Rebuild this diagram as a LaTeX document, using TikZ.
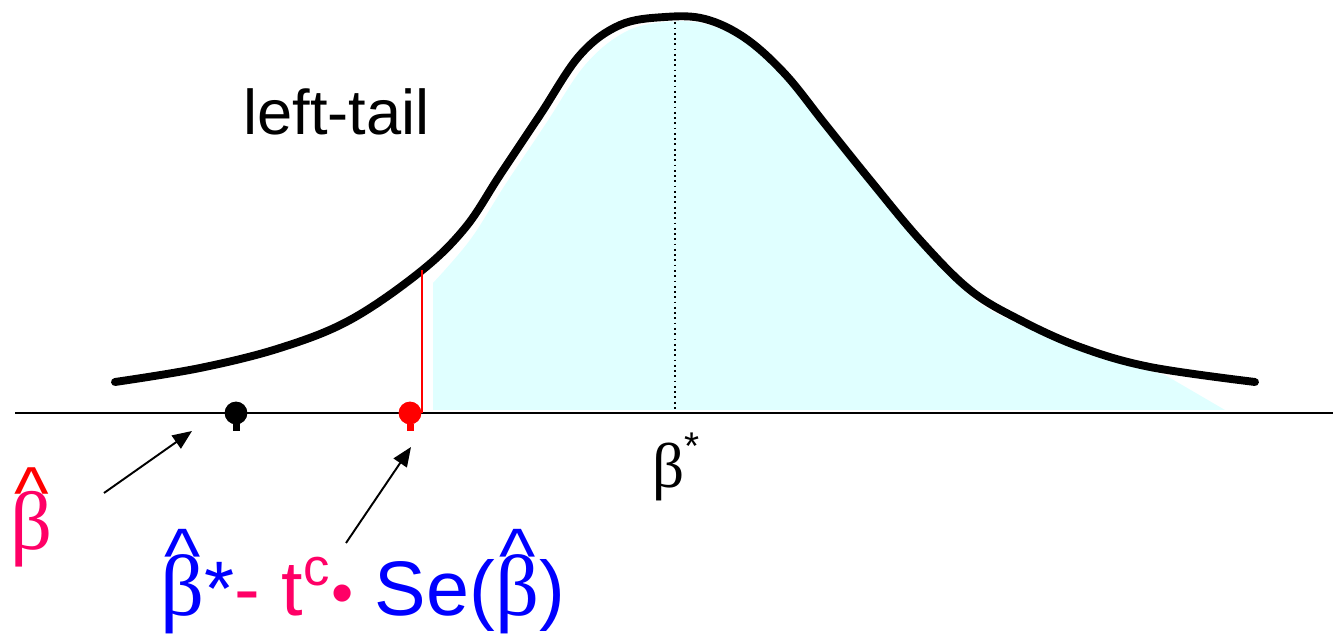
\documentclass[tikz,border=0pt]{standalone}
\usepackage{fontspec}
\setmainfont{Liberation Sans}
\newfontfamily\grk{Liberation Serif}
\usetikzlibrary{arrows.meta}
\definecolor{pinkc}{RGB}{255,0,102}
\definecolor{bluec}{RGB}{0,0,255}
\definecolor{redc}{RGB}{255,0,0}
\definecolor{cyanfill}{RGB}{224,255,255}
\newcommand{\hatbeta}[1]{\hbox{\ooalign{{\grk\scalebox{1.12}{β}}\cr\hidewidth\raisebox{0.43em}{\color{#1}\textasciicircum}\hidewidth\cr}}}
\tikzset{
  curve/.style={line width=4.5pt, line cap=round},
  axis/.style={line width=1.4pt},
  pointer/.style={line width=1.1pt, -{Triangle[length=11pt,width=9pt]}},
  dotmark/.style={circle, inner sep=0pt, minimum size=13pt},
  lbl/.style={inner sep=0pt, anchor=base west}
}
\begin{document}
\begin{tikzpicture}[x=0.02cm,y=-0.02cm]
\useasboundingbox (0,0) rectangle (1333,634);
% shaded area
\fill[cyanfill] (433,410) -- plot[smooth, tension=0.6] coordinates {(433,283) (470,240) (505,185) (545,125) (585,65) (625,32) (665,22) (705,24) (745,42) (785,78) (825,128) (875,190) (925,250) (975,300) (1025,327) (1085,352) (1165,375)} -- (1225,410) -- cycle;
% axis
\draw[axis] (15,413) coordinate (ax0) -- (1333,413) coordinate (ax1);
% dotted mean
\coordinate (top) at (675,17);
\coordinate (mid) at (675,413);
\draw[dotted, line width=1pt] (top) -- (mid);
% curve
\draw[curve] plot[smooth, tension=0.6] coordinates {(115,382) (200,368) (280,348) (350,320) (420,272) (465,228) (500,175) (540,115) (580,55) (620,25) (665,17) (705,19) (745,38) (785,74) (825,124) (870,180) (920,240) (970,290) (1020,320) (1080,347) (1150,367) (1255,382)};
% red critical line
\coordinate (cr0) at (422,270);
\coordinate (cr1) at (422,413);
\draw[redc, line width=1.6pt] (cr0) -- (cr1);
% dots
\fill[black] (233,422) rectangle (240,431);
\node[dotmark, fill=black] (bdot) at (236,413) {};
\fill[redc] (407,424) rectangle (414,431);
\node[dotmark, fill=redc] (rdot) at (410,413) {};
% labels
\node[lbl, font=\fontsize{36pt}{40pt}\selectfont] (lt) at (243,135) {left-tail};
\node[lbl, font=\fontsize{36pt}{40pt}\selectfont] (bs) at (652,488) {{\grk β}\raisebox{0.45em}{\fontsize{22pt}{24pt}\selectfont *}};
\node[lbl, font=\fontsize{42pt}{46pt}\selectfont, text=pinkc] (bh) at (10,550) {\hatbeta{redc}};
\node[lbl, font=\fontsize{44pt}{48pt}\selectfont, text=bluec] (fm) at (160,616) {\hatbeta{bluec}*\textcolor{pinkc}{- t\raisebox{0.4em}{\fontsize{30pt}{30pt}\selectfont c}\kern1pt\raisebox{0.02em}{\fontsize{36pt}{36pt}\selectfont •}} Se(\hatbeta{bluec})};
% arrows
\coordinate (a1) at (104,493);
\coordinate (h1) at (192,431);
\coordinate (a2) at (346,543);
\coordinate (h2) at (411,447);
\draw[pointer] (a1) -- (h1);
\draw[pointer] (a2) -- (h2);
\end{tikzpicture}
\end{document}
